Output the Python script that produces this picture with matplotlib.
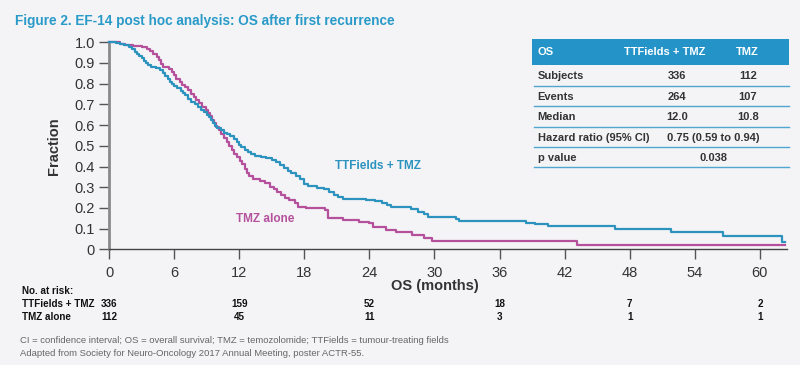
import matplotlib
matplotlib.use("Agg")
import matplotlib.pyplot as plt
from matplotlib.transforms import blended_transform_factory
from matplotlib.patches import Rectangle
from matplotlib.lines import Line2D

plt.rcParams['font.family'] = ['Liberation Sans', 'DejaVu Sans']

# Kaplan-Meier steps (months, fraction alive)
ttf_time = [0, 0.6, 1.0, 1.4, 1.8, 2.1, 2.4, 2.6, 2.8, 3.0, 3.2, 3.4, 3.6, 3.9, 4.3, 4.7,
            5.0, 5.2, 5.4, 5.6, 5.8, 6.0, 6.3, 6.6, 6.8, 7.0, 7.3, 7.6, 7.9, 8.2, 8.5, 8.8,
            9.0, 9.2, 9.4, 9.6, 9.8, 10.0, 10.3, 10.6, 10.9, 11.2, 11.5, 11.8, 12.0, 12.2,
            12.5, 12.8, 13.1, 13.5, 14.0, 14.5, 15.0, 15.4, 15.8, 16.1, 16.5, 16.8, 17.2,
            17.6, 18.0, 18.3, 19.2, 19.8, 20.3, 20.7, 21.1, 21.6, 23.7, 24.5, 25.2, 25.6,
            26.0, 27.8, 28.5, 29.0, 29.4, 32.0, 32.3, 38.4, 39.3, 40.5, 46.6, 51.8, 56.6,
            62.0, 62.3]
ttf_surv = [1.0, 0.995, 0.99, 0.985, 0.978, 0.968, 0.955, 0.945, 0.935, 0.924, 0.912, 0.9,
            0.89, 0.882, 0.875, 0.866, 0.852, 0.838, 0.824, 0.81, 0.798, 0.788, 0.778, 0.766,
            0.755, 0.743, 0.728, 0.712, 0.70, 0.688, 0.675, 0.662, 0.65, 0.638, 0.626, 0.612,
            0.598, 0.586, 0.574, 0.564, 0.555, 0.545, 0.532, 0.518, 0.505, 0.495, 0.482,
            0.47, 0.46, 0.452, 0.446, 0.44, 0.43, 0.42, 0.405, 0.392, 0.38, 0.368, 0.352,
            0.338, 0.315, 0.305, 0.298, 0.29, 0.278, 0.262, 0.252, 0.243, 0.238, 0.232,
            0.224, 0.212, 0.204, 0.193, 0.18, 0.17, 0.158, 0.146, 0.137, 0.128, 0.12, 0.112,
            0.097, 0.084, 0.066, 0.037, 0.037]

tmz_time = [0, 1.0, 1.5, 2.2, 3.0, 3.5, 3.8, 4.1, 4.4, 4.6, 4.8, 5.0, 5.5, 5.8, 6.0, 6.2,
            6.5, 6.7, 7.0, 7.3, 7.6, 7.8, 8.0, 8.3, 8.6, 8.9, 9.1, 9.3, 9.5, 9.7, 9.9, 10.1,
            10.3, 10.6, 10.9, 11.1, 11.3, 11.5, 11.8, 12.1, 12.3, 12.5, 12.7, 12.9, 13.3,
            13.9, 14.4, 14.8, 15.2, 15.5, 15.9, 16.2, 16.6, 17.1, 17.4, 18.2, 19.9, 20.2,
            21.6, 23.0, 24.0, 24.3, 25.5, 26.5, 27.9, 29.0, 29.8, 43.1, 62.3]
tmz_surv = [1.0, 0.993, 0.985, 0.98, 0.975, 0.97, 0.96, 0.945, 0.93, 0.914, 0.895, 0.882,
            0.872, 0.857, 0.84, 0.825, 0.808, 0.795, 0.782, 0.768, 0.75, 0.735, 0.72, 0.705,
            0.688, 0.672, 0.658, 0.642, 0.626, 0.61, 0.592, 0.574, 0.558, 0.54, 0.52, 0.5,
            0.482, 0.462, 0.446, 0.428, 0.41, 0.39, 0.37, 0.352, 0.34, 0.33, 0.318, 0.302,
            0.29, 0.276, 0.262, 0.25, 0.238, 0.222, 0.206, 0.198, 0.19, 0.15, 0.142, 0.134,
            0.126, 0.109, 0.093, 0.082, 0.07, 0.053, 0.04, 0.021, 0.021]

risk_times = [0, 12, 24, 36, 48, 60]
risk_ttf = [336, 159, 52, 18, 7, 2]
risk_tmz = [112, 45, 11, 3, 1, 1]

table_header = ["OS", "TTFields + TMZ", "TMZ"]
table_rows = [["Subjects", "336", "112"],
              ["Events", "264", "107"],
              ["Median", "12.0", "10.8"],
              ["Hazard ratio (95% CI)", "0.75 (0.59 to 0.94)", None],
              ["p value", "0.038", None]]

BG = '#F4F4F6'
BLUE = '#2C93BF'
MAGENTA = '#B5509C'
TITLE_BLUE = '#2A9AC8'
HEAD_BLUE = '#2494C8'
DARK = '#333333'

W, H = 800, 365
fig = plt.figure(figsize=(W / 100, H / 100), dpi=100, facecolor=BG)


def fx(px):
    return px / W


def fy(py):
    return 1 - py / H


ax = fig.add_axes([fx(109), fy(249.3), fx(787) - fx(109), fy(42.3) - fy(249.3)])
ax.set_facecolor(BG)

ax.step(ttf_time, ttf_surv, where='post', color=BLUE, lw=1.6, clip_on=False, zorder=3)
ax.step(tmz_time, tmz_surv, where='post', color=MAGENTA, lw=1.6, clip_on=False, zorder=2)

ax.set_xlim(0, 62.5)
ax.set_ylim(0, 1.0)
ax.set_xticks(range(0, 61, 6))
ax.set_yticks([i / 10 for i in range(11)])
ax.set_yticklabels(["0"] + ["%.1f" % (i / 10) for i in range(1, 11)])
ax.tick_params(axis='both', labelsize=10.5, colors='#555555', labelcolor=DARK,
               length=7, width=1, direction='out')
ax.tick_params(axis='x', pad=5)
ax.tick_params(axis='y', pad=3)
for s in ['top', 'right']:
    ax.spines[s].set_visible(False)
ax.spines['left'].set_color('#8A8A8A')
ax.spines['left'].set_linewidth(2)
ax.spines['bottom'].set_color('#444444')
ax.spines['bottom'].set_linewidth(1)

ax.set_ylabel("Fraction", fontsize=10.5, fontweight='bold', color=DARK, labelpad=10)

tr = blended_transform_factory(ax.transData, fig.transFigure)
ax.text(30, fy(285.7), "OS (months)", transform=tr, ha='center', va='center',
        fontsize=10.5, fontweight='bold', color=DARK)

ax.text(20.8, 0.404, "TTFields + TMZ", color=BLUE, fontsize=8.5, fontweight='bold',
        ha='left', va='center')
ax.text(11.75, 0.148, "TMZ alone", color=MAGENTA, fontsize=8.5, fontweight='bold',
        ha='left', va='center')

# title
fig.text(fx(15), fy(20.5), "Figure 2. EF-14 post hoc analysis: OS after first recurrence",
         color=TITLE_BLUE, fontsize=9.8, fontweight='bold', ha='left', va='center')

# numbers at risk
rs = 7.1
fig.text(fx(22), fy(291), "No. at risk:", fontsize=rs, fontweight='bold', color='#111111',
         ha='left', va='center')
fig.text(fx(22), fy(304.3), "TTFields + TMZ", fontsize=rs, fontweight='bold',
         color='#111111', ha='left', va='center')
fig.text(fx(22), fy(317), "TMZ alone", fontsize=rs, fontweight='bold', color='#111111',
         ha='left', va='center')
for t, a, b in zip(risk_times, risk_ttf, risk_tmz):
    ax.text(t, fy(304.3), str(a), transform=tr, fontsize=rs, fontweight='bold',
            color='#111111', ha='center', va='center', clip_on=False)
    ax.text(t, fy(317), str(b), transform=tr, fontsize=rs, fontweight='bold',
            color='#111111', ha='center', va='center', clip_on=False)

# footnotes
fig.text(fx(20), fy(340.5), "CI = confidence interval; OS = overall survival; TMZ = temozolomide; "
         "TTFields = tumour-treating fields", fontsize=6.8, color='#666666', ha='left', va='center')
fig.text(fx(20), fy(353.5), "Adapted from Society for Neuro-Oncology 2017 Annual Meeting, "
         "poster ACTR-55.", fontsize=6.8, color='#666666', ha='left', va='center')

# summary table
tx0, tx1 = 532, 789
fig.patches.append(Rectangle((fx(tx0), fy(65)), fx(tx1) - fx(tx0), fy(39) - fy(65),
                             transform=fig.transFigure, facecolor=HEAD_BLUE,
                             edgecolor='none', zorder=5))
col_x = [537.7, 665, 747.7]
fig.text(fx(col_x[0]), fy(52), table_header[0], color='white', fontsize=8,
         fontweight='bold', ha='left', va='center', zorder=6)
fig.text(fx(col_x[1]), fy(52), table_header[1], color='white', fontsize=8,
         fontweight='bold', ha='center', va='center', zorder=6)
fig.text(fx(col_x[2]), fy(52), table_header[2], color='white', fontsize=8,
         fontweight='bold', ha='center', va='center', zorder=6)
row_y = [76, 96.7, 117.3, 137.7, 158]
sep_y = [85.7, 106.2, 126.7, 146.9, 167.3]
for r, yy, sy in zip(table_rows, row_y, sep_y):
    fig.text(fx(col_x[0]), fy(yy), r[0], color=DARK, fontsize=8, fontweight='bold',
             ha='left', va='center', zorder=6)
    if r[2] is None:
        fig.text(fx(713), fy(yy), r[1], color=DARK, fontsize=8, fontweight='bold',
                 ha='center', va='center', zorder=6)
    else:
        fig.text(fx(676.7), fy(yy), r[1], color=DARK, fontsize=8, fontweight='bold',
                 ha='center', va='center', zorder=6)
        fig.text(fx(col_x[2]), fy(yy), r[2], color=DARK, fontsize=8, fontweight='bold',
                 ha='center', va='center', zorder=6)
    fig.lines.append(Line2D([fx(534), fx(tx1)], [fy(sy), fy(sy)], transform=fig.transFigure,
                            color='#4FA6CF', lw=1, zorder=6))

fig.savefig("out.png", dpi=100, facecolor=BG)
